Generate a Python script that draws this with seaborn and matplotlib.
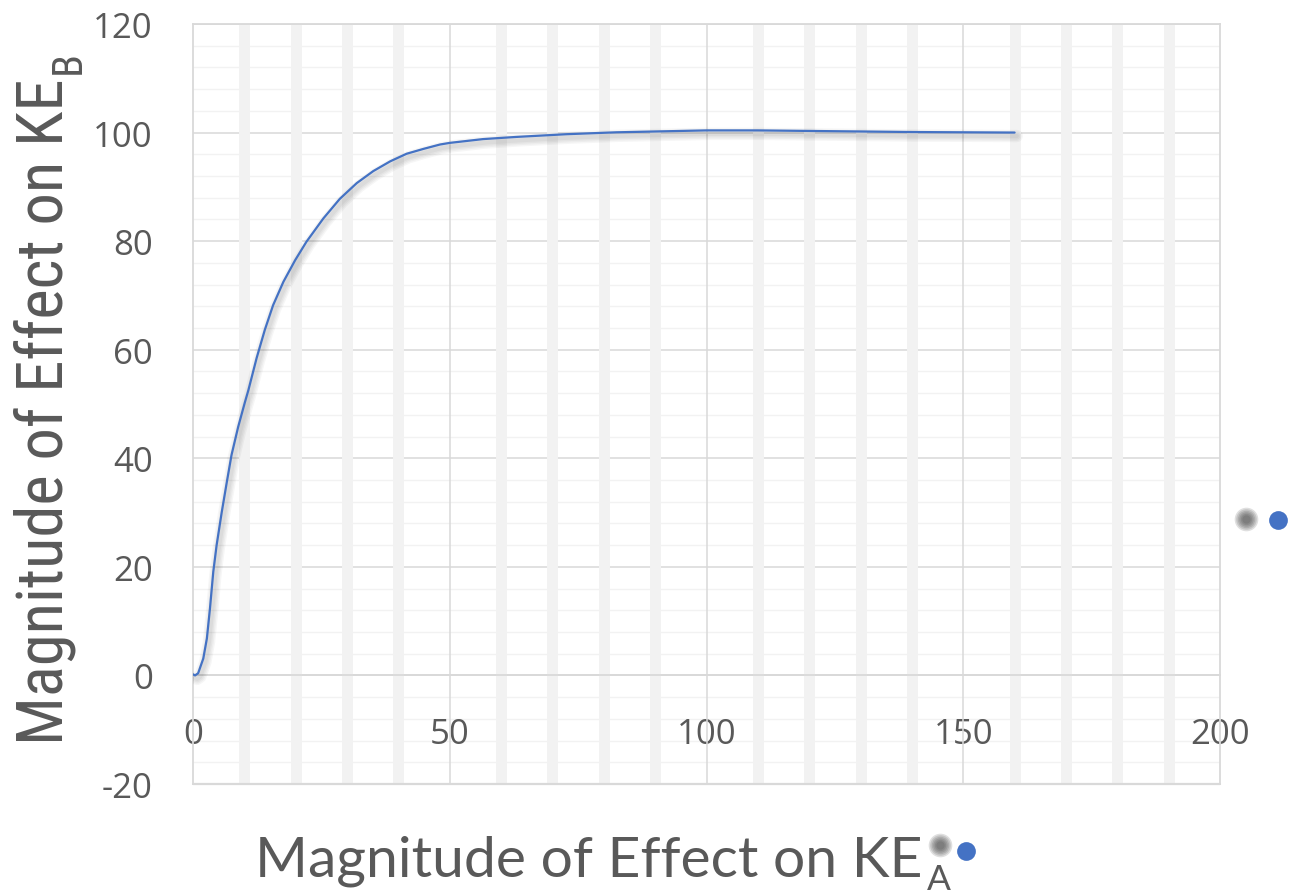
import numpy as np
import pandas as pd
import matplotlib
matplotlib.use("Agg")
import matplotlib.pyplot as plt
import matplotlib.patheffects as pe
from matplotlib.lines import Line2D
from matplotlib import font_manager
import seaborn as sns

# ---------------- data ----------------
ke_a = [0, 0.4, 1.0, 2.0, 2.7, 3.3, 3.95, 4.6, 5.6, 6.6,
        7.5, 8.8, 10.1, 10.8, 12.4, 14.0, 15.6, 17.6, 19.9, 22.1,
        25.4, 28.6, 31.9, 35.1, 38.4, 41.6, 44.9, 48.1, 50, 56.5,
        63, 72.8, 82.5, 90, 100, 110, 120, 130, 140, 150, 160]
ke_b = [0.2, 0, 0.4, 3.1, 6.8, 12.3, 19.1, 24.0, 30.1, 35.7,
        40.6, 45.8, 50.3, 52.6, 58.5, 63.7, 68.2, 72.5, 76.5, 79.9,
        84.2, 87.8, 90.7, 92.9, 94.7, 96.1, 97.0, 97.8, 98.1, 98.8,
        99.2, 99.7, 100.05, 100.2, 100.4, 100.4, 100.3, 100.2, 100.1, 100.05, 100.0]
y_ticks = [-20, 0, 20, 40, 60, 80, 100, 120]
x_ticks = [0, 50, 100, 150, 200]
x_label = "Magnitude of Effect on KE"
x_sub = "A"
y_label = "Magnitude of Effect on KE"
y_sub = "B"

df = pd.DataFrame({"KE_A": ke_a, "KE_B": ke_b})

# ---------------- style ----------------
sns.set_theme(style="white")
installed = {f.name for f in font_manager.fontManager.ttflist}
TICK_FONT = ["Open Sans", "DejaVu Sans"]
XL_FONT = ["Lato", "Open Sans", "DejaVu Sans"]
narrow = None
for cand in ["Liberation Sans Narrow", "DejaVu Sans Condensed", "Roboto Condensed"]:
    if cand in installed:
        narrow = cand
        break
YL_FONT = [narrow] if narrow else ["Lato", "DejaVu Sans"]
plt.rcParams["font.family"] = TICK_FONT

TXT = "#595959"
MAJ = "#d9d9d9"
MIN = "#f2f2f2"
LINE = "#4472C4"

W, H = 1294, 895
fig = plt.figure(figsize=(W / 100, H / 100), dpi=100)
ax = fig.add_axes([193 / W, 1 - 785 / H, (1220 - 193) / W, (785 - 25) / H])

ax.set_xlim(0, 200)
ax.set_ylim(-20, 120)

# horizontal gridlines
for v in np.arange(-20, 121, 4):
    if v % 20 == 0:
        continue
    ax.axhline(v, color=MIN, lw=1.0, zorder=0.5)
for v in y_ticks:
    ax.axhline(v, color=MAJ, lw=1.1, zorder=0.6)
# vertical minor bands and major lines
for v in np.arange(10, 200, 10):
    if v % 50 == 0:
        continue
    ax.axvline(v, color=MIN, lw=7.9, zorder=0.8, solid_capstyle="butt")
for v in x_ticks[1:-1]:
    ax.axvline(v, color=MAJ, lw=1.1, zorder=0.9)

for s in ax.spines.values():
    s.set_color(MAJ)
    s.set_linewidth(1.3)
    s.set_zorder(1.0)

# curve with a soft shadow
shadow = [pe.SimpleLineShadow(offset=(1.5, -2.5), shadow_color="#000000", alpha=0.035,
                              rho=1, linewidth=w) for w in (9, 7, 5, 3)]
sns.lineplot(data=df, x="KE_A", y="KE_B", ax=ax, color=LINE, lw=1.6, zorder=3,
             path_effects=shadow + [pe.Normal()], sort=False, estimator=None,
             solid_joinstyle="round", solid_capstyle="round")

# ticks
ax.set_yticks(y_ticks)
ax.set_yticklabels([str(t) for t in y_ticks])
ax.set_xticks(x_ticks)
ax.set_xticklabels([str(t) for t in x_ticks])
ax.tick_params(axis="both", length=0, labelsize=25, labelcolor=TXT)
ax.tick_params(axis="y", pad=29)
ax.tick_params(axis="x", pad=30)
# x tick labels sit at the y = 0 crossing
ax.spines["bottom"].set_position(("data", 0))
ax.spines["bottom"].set_color(MAJ)
ax.set_xlabel("")
ax.set_ylabel("")
# plot-area bottom border
ax.axhline(-20, color=MAJ, lw=1.6, zorder=1.0, clip_on=False)

def fx(px):
    return px / W

def fy(py):
    return 1 - py / H

# ---------------- axis titles ----------------
xt = fig.text(fx(255), fy(877), x_label, fontsize=40, family=XL_FONT, color=TXT,
              ha="left", va="baseline")
yt = fig.text(fx(63), fy(745), y_label, fontsize=40, family=YL_FONT, color=TXT,
              ha="left", va="baseline", rotation=90, rotation_mode="anchor")
fig.canvas.draw()
r = fig.canvas.get_renderer()
bb = xt.get_window_extent(r)
xt.set_fontsize(40 * 667 / bb.width)
bb = yt.get_window_extent(r)
yt.set_fontsize(40 * 666 / bb.height)
fig.canvas.draw()
bbx = xt.get_window_extent(r)
bby = yt.get_window_extent(r)
xs = fig.text((bbx.x1 + 4) / W, fy(890), x_sub, fontsize=xt.get_fontsize() * 0.62,
              family=XL_FONT, color=TXT, ha="left", va="baseline")
ys = fig.text(fx(80), (bby.y1 + 4) / H, y_sub, fontsize=yt.get_fontsize() * 0.65,
              family=YL_FONT, color=TXT, ha="left", va="baseline", rotation=90,
              rotation_mode="anchor")

# ---------------- stray legend-like dots ----------------
def blur_dot(px, py, size):
    for s in np.linspace(size, size * 0.35, 6):
        fig.add_artist(Line2D([fx(px)], [fy(py)], transform=fig.transFigure, marker="o",
                              ms=s, mec="none", mfc="#3a3a3a", alpha=0.16, ls="none"))

def dot(px, py, size):
    fig.add_artist(Line2D([fx(px)], [fy(py)], transform=fig.transFigure, marker="o",
                          ms=size, mec="none", mfc=LINE, ls="none"))

blur_dot(1246, 520, 17)
dot(1278, 521, 13.5)
blur_dot(940, 846, 17)
dot(966, 852, 13.5)

fig.savefig("out.png", dpi=100)
